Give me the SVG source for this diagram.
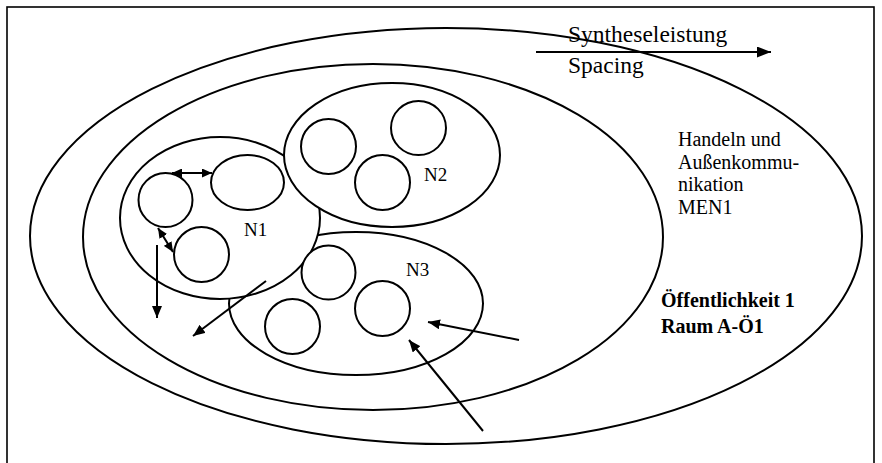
<svg xmlns="http://www.w3.org/2000/svg" width="882" height="463" viewBox="0 0 882 463">
<style>
.ring{fill:none;stroke:#000;stroke-width:2}
.blob{fill:#fff;stroke:#000;stroke-width:2}
.con{fill:none;stroke:#000;stroke-width:2}
text{font-family:'Liberation Serif','Times New Roman',Times,serif;fill:#000}
.b{font-weight:bold}
</style>
<defs>
<marker id="ah" viewBox="0 0 12 10" refX="12" refY="5" markerWidth="12" markerHeight="10" markerUnits="userSpaceOnUse" orient="auto-start-reverse"><path d="M0,0 L12,5 L0,10 z" fill="#000"/></marker>
<marker id="ahs" viewBox="0 0 10 9" refX="10" refY="4.5" markerWidth="10" markerHeight="9" markerUnits="userSpaceOnUse" orient="auto-start-reverse"><path d="M0,0 L10,4.5 L0,9 z" fill="#000"/></marker>
<marker id="ahb" viewBox="0 0 14 11" refX="14" refY="5.5" markerWidth="14" markerHeight="11" markerUnits="userSpaceOnUse" orient="auto"><path d="M0,0 L14,5.5 L0,11 z" fill="#000"/></marker>
</defs>
<rect x="7" y="7" width="867" height="470" fill="#fff" stroke="#000" stroke-width="1.6"/>
<g id="outer"><ellipse class="ring" cx="446" cy="236" rx="416" ry="208"/></g>
<g id="middle"><ellipse class="ring" cx="373" cy="237" rx="290" ry="173"/></g>
<g id="N3">
<ellipse class="blob" cx="356" cy="303.5" rx="127" ry="71.5"/>
</g>
<g id="N1">
<ellipse class="blob" cx="220" cy="218" rx="100" ry="81"/>
</g>
<g id="N2">
<ellipse class="blob" cx="392" cy="155" rx="108" ry="72"/>
</g>
<g id="N1-members">
<ellipse class="blob" cx="165.5" cy="200" rx="27" ry="27"/>
<ellipse class="blob" cx="247.5" cy="182.5" rx="36.5" ry="27.5"/>
<ellipse class="blob" cx="201.5" cy="254.5" rx="27.5" ry="27.5"/>
<text x="244" y="236" font-size="19" font-family="Liberation Serif, serif">N1</text>
</g>
<g id="N2-members">
<ellipse class="blob" cx="328.5" cy="146.5" rx="27.5" ry="27.5"/>
<ellipse class="blob" cx="418.5" cy="128" rx="27.5" ry="27"/>
<ellipse class="blob" cx="382.5" cy="182.5" rx="27.5" ry="27.5"/>
<text x="424" y="181" font-size="19" font-family="Liberation Serif, serif">N2</text>
</g>
<g id="N3-members">
<ellipse class="blob" cx="328.5" cy="272.5" rx="27" ry="27"/>
<ellipse class="blob" cx="382.5" cy="308.5" rx="27.5" ry="27.5"/>
<ellipse class="blob" cx="292.5" cy="326.5" rx="27.5" ry="27.5"/>
<text x="406" y="276" font-size="19" font-family="Liberation Serif, serif">N3</text>
</g>
<g id="labels" font-family="Liberation Serif, serif">
<text x="568" y="42" font-size="23.5">Syntheseleistung</text>
<text x="568" y="72.5" font-size="23.5">Spacing</text>
<text x="678" y="146" font-size="20">Handeln und</text>
<text x="678" y="168.5" font-size="20">Außenkommu-</text>
<text x="678" y="191" font-size="20">nikation</text>
<text x="678" y="214" font-size="20">MEN1</text>
<text class="b" x="661" y="307" font-size="20">Öffentlichkeit 1</text>
<text class="b" x="661" y="333" font-size="20">Raum A-Ö1</text>
</g>
<g id="connectors">
<line class="con" x1="536" y1="52" x2="771" y2="52" marker-end="url(#ahb)"/>
<line class="con" x1="172" y1="173" x2="212" y2="173" marker-start="url(#ahs)" marker-end="url(#ahs)"/>
<line class="con" x1="158" y1="228" x2="173" y2="252" marker-start="url(#ahs)" marker-end="url(#ahs)"/>
<line class="con" x1="157" y1="245" x2="157" y2="318" marker-end="url(#ah)"/>
<line class="con" x1="266" y1="281" x2="193" y2="336" marker-end="url(#ah)"/>
<line class="con" x1="519" y1="340" x2="428" y2="322" marker-end="url(#ah)"/>
<line class="con" x1="483" y1="431" x2="409" y2="340" marker-end="url(#ah)"/>
</g>
</svg>
